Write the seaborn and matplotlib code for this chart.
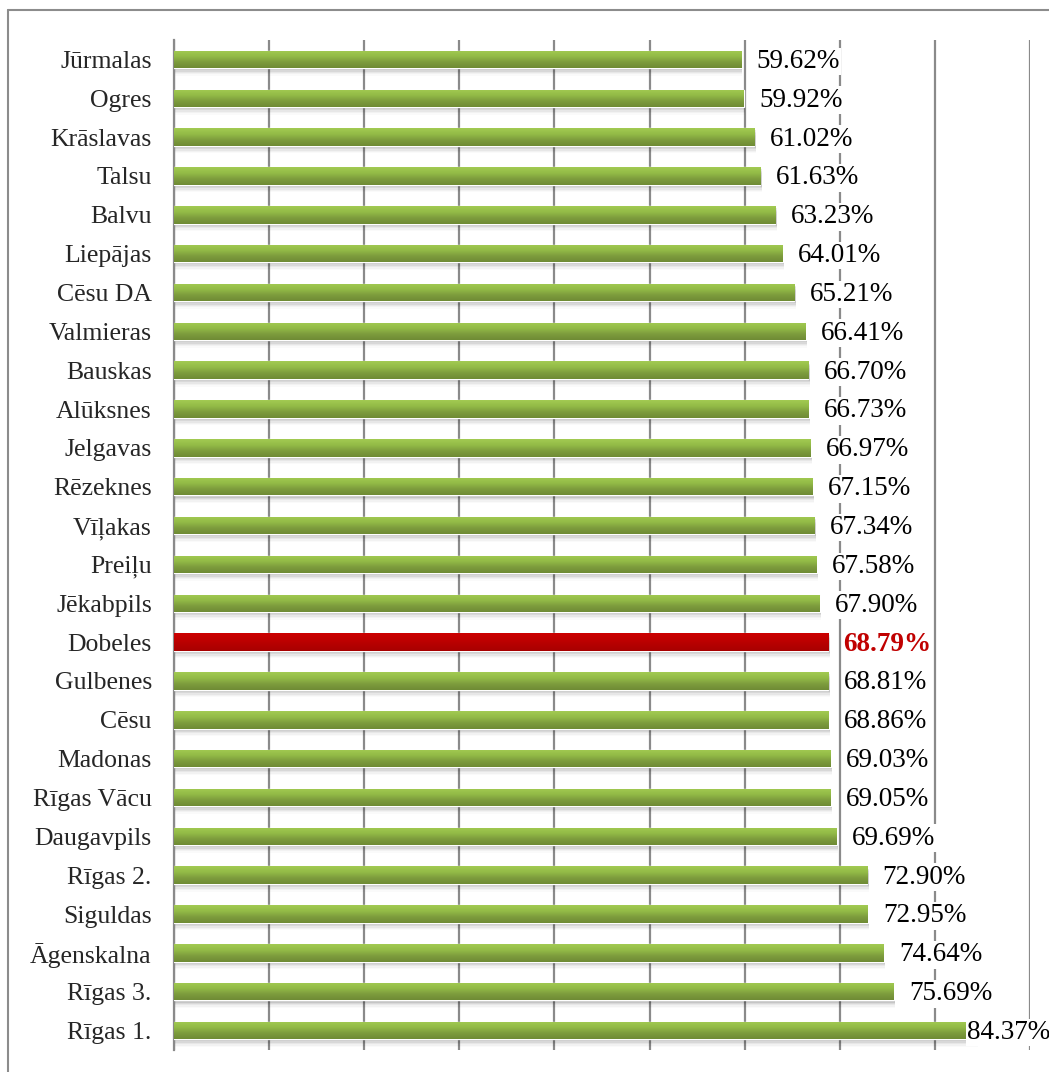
import numpy as np
import pandas as pd
import matplotlib
matplotlib.use('Agg')
import matplotlib.pyplot as plt
import matplotlib.transforms as mtransforms
from matplotlib.colors import LinearSegmentedColormap
from matplotlib.lines import Line2D
import seaborn as sns

# data, top to bottom as in the chart
schools = ['Jūrmalas', 'Ogres', 'Krāslavas', 'Talsu', 'Balvu', 'Liepājas', 'Cēsu DA',
           'Valmieras', 'Bauskas', 'Alūksnes', 'Jelgavas', 'Rēzeknes', 'Vīļakas', 'Preiļu',
           'Jēkabpils', 'Dobeles', 'Gulbenes', 'Cēsu', 'Madonas', 'Rīgas Vācu', 'Daugavpils',
           'Rīgas 2.', 'Siguldas', 'Āgenskalna', 'Rīgas 3.', 'Rīgas 1.']
shares = [59.62, 59.92, 61.02, 61.63, 63.23, 64.01, 65.21, 66.41, 66.70, 66.73, 66.97,
          67.15, 67.34, 67.58, 67.90, 68.79, 68.81, 68.86, 69.03, 69.05, 69.69, 72.90,
          72.95, 74.64, 75.69, 84.37]
highlight = 'Dobeles'

GREEN = '#8db543'
RED = '#c00000'
GRID = '#8a8a8a'

df = pd.DataFrame({'school': schools, 'share': np.array(shares) / 100})

sns.set_style('white')
plt.rcParams['font.family'] = ['Liberation Serif', 'DejaVu Serif']

fig = plt.figure(figsize=(10.49, 10.72), dpi=100)
ax = fig.add_axes([174 / 1049, 1 - 1050 / 1072, 856 / 1049, 1010 / 1072])

palette = {s: (RED if s == highlight else GREEN) for s in schools}
sns.barplot(data=df, y='school', x='share', hue='school', palette=palette,
            order=schools, orient='h', width=0.45, legend=False, ax=ax,
            saturation=1, zorder=3)
bars = list(ax.patches)

# soft shadow under the bars
for p in bars:
    for i, a in enumerate([0.09, 0.06, 0.045, 0.03, 0.02]):
        tr = mtransforms.offset_copy(ax.transData, fig=fig, x=1.0, y=-(i + 1.5), units='points')
        sh = plt.Rectangle(p.get_xy(), p.get_width(), p.get_height(), transform=tr,
                           facecolor='black', edgecolor='none', alpha=a, zorder=2)
        ax.add_patch(sh)

# vertical gradient on each bar
green_cmap = LinearSegmentedColormap.from_list('g', ['#a2ca52', '#93bb47', '#7d9c3d', '#6f8b35'])
red_cmap = LinearSegmentedColormap.from_list('r', ['#cc0000', '#c00000', '#b40000', '#a80000'])
grad = np.linspace(0, 1, 64).reshape(-1, 1)
for p, s in zip(bars, schools):
    bb = p.get_bbox()
    cmap = red_cmap if s == highlight else green_cmap
    im = ax.imshow(grad, extent=(bb.x0, bb.x1, bb.y1, bb.y0), origin='upper',
                   aspect='auto', cmap=cmap, zorder=4)
    im.set_clip_path(p)

ax.set_xlim(0, 0.9)
ax.set_ylim(len(schools) - 0.5, -0.5)
ax.set_xticks(np.arange(0, 0.91, 0.1))
ax.set_xticklabels([])
ax.tick_params(axis='x', length=0)
ax.grid(axis='x', color=GRID, linewidth=1.6, zorder=0)
ax.set_axisbelow(True)
ax.set_xlabel('')
ax.set_ylabel('')

ax.set_yticks(np.arange(-0.5, len(schools), 1), minor=True)
ax.tick_params(axis='y', which='major', length=0, pad=16, labelsize=18.5)
ax.tick_params(axis='y', which='minor', length=6, width=1.6, color=GRID, direction='out')
for side in ['top', 'right', 'bottom']:
    ax.spines[side].set_visible(False)
ax.spines['left'].set_color(GRID)
ax.spines['left'].set_linewidth(1.6)

# value labels
for i, (s, v) in enumerate(zip(schools, df['share'])):
    x = min(v + 0.016, 0.834)
    if s == highlight:
        ax.text(x, i + 0.05, f'{v * 100:.2f}%', va='center', ha='left', fontsize=19.5,
                color=RED, fontweight='bold', zorder=6,
                bbox=dict(facecolor='white', edgecolor='none', pad=1))
    else:
        ax.text(x, i + 0.05, f'{v * 100:.2f}%', va='center', ha='left', fontsize=19.5,
                color='black', zorder=6,
                bbox=dict(facecolor='white', edgecolor='none', pad=1))

# outer frame (partly cropped in the original)
fx = 8 / 1049
fy = 1 - 10 / 1072
fig.add_artist(Line2D([fx, fx], [0, fy], color='#8c8c8c', linewidth=1.5))
fig.add_artist(Line2D([fx, 1], [fy, fy], color='#8c8c8c', linewidth=1.5))

fig.savefig('out.png', dpi=100)
